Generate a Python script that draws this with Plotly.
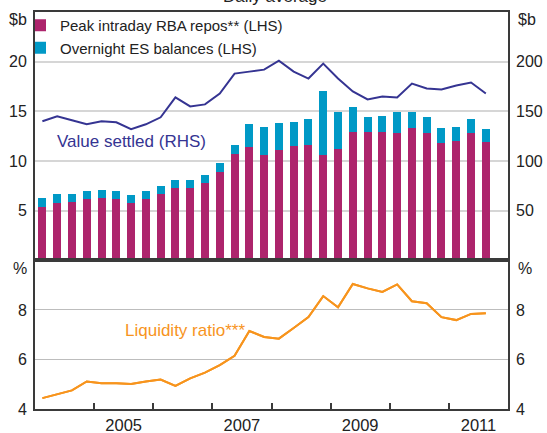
import plotly.graph_objects as go

# ---------------- data ----------------
quarters = [f"{y}Q{q}" for y in range(2004, 2012) for q in range(1, 5)][:31]

peak_rba_repos = [5.4, 5.8, 5.9, 6.2, 6.3, 6.2, 5.8, 6.2, 6.7, 7.3, 7.3, 7.8, 8.9, 10.7, 11.4, 10.6,
                  11.1, 11.5, 11.6, 10.6, 11.2, 12.9, 12.9, 12.9, 12.8, 13.3, 12.8, 11.8, 12.0, 12.8, 11.9]
overnight_es = [0.9, 0.9, 0.8, 0.8, 0.8, 0.8, 0.8, 0.8, 0.8, 0.8, 0.8, 0.8, 0.9, 0.9, 2.3, 2.8,
                2.7, 2.4, 2.6, 6.4, 3.7, 2.5, 1.5, 1.6, 2.1, 1.6, 1.6, 1.5, 1.4, 1.4, 1.3]
value_settled = [140, 145, 141, 137, 140, 139, 132, 137, 144, 164, 155, 157, 168, 188, 190, 192,
                 201, 190, 183, 198, 183, 170, 162, 165, 164, 178, 173, 172, 176, 179, 168]
liquidity_ratio = [4.44, 4.59, 4.75, 5.11, 5.04, 5.04, 5.01, 5.11, 5.19, 4.93, 5.24, 5.47, 5.77, 6.15,
                   7.15, 6.91, 6.84, 7.27, 7.71, 8.56, 8.11, 9.05, 8.87, 8.73, 9.03, 8.35, 8.27, 7.71,
                   7.59, 7.84, 7.87]

year_ticks = [2005, 2006, 2007, 2008, 2009, 2010, 2011]
year_labels = ["2005", "2007", "2009", "2011"]
lhs_ticks_top = [5, 10, 15, 20]
rhs_ticks_top = [50, 100, 150, 200]
pct_ticks = [4, 6, 8]

# quarter label -> position in years (mid-quarter)
xq = [int(s[:4]) + (int(s[-1]) - 0.5) / 4 for s in quarters]

MAGENTA = "#AD246C"
TEAL = "#0099C6"
NAVY = "#353492"
ORANGE = "#F7941D"
AXIS = "#3a3a3a"
TXT = "#222222"
FONT = "Liberation Sans, Arial, sans-serif"

W, H = 547, 433
ML, MR, MT, MB = 35, 39, 12, 24
PW, PH = W - ML - MR, H - MT - MB

fig = go.Figure()
fig.add_trace(go.Bar(x=xq, y=peak_rba_repos, name="Peak intraday RBA repos** (LHS)",
                     marker=dict(color=MAGENTA, line=dict(width=0)), width=0.135,
                     xaxis="x", yaxis="y"))
fig.add_trace(go.Bar(x=xq, y=overnight_es, name="Overnight ES balances (LHS)",
                     marker=dict(color=TEAL, line=dict(width=0)), width=0.135,
                     xaxis="x", yaxis="y"))
fig.add_trace(go.Scatter(x=xq, y=value_settled, mode="lines", showlegend=False,
                         line=dict(color=NAVY, width=2), xaxis="x", yaxis="y3"))
fig.add_trace(go.Scatter(x=xq, y=liquidity_ratio, mode="lines", showlegend=False,
                         line=dict(color=ORANGE, width=2), xaxis="x2", yaxis="y2"))
fig.add_trace(go.Scatter(x=xq, y=liquidity_ratio, mode="lines", showlegend=False,
                         line=dict(color=ORANGE, width=2), xaxis="x2", yaxis="y4",
                         hoverinfo="skip"))

split = (409.3 - 260.7) / PH
xr = [2004, 2012]

fig.update_layout(
    width=W, height=H,
    margin=dict(l=ML, r=MR, t=MT, b=MB, autoexpand=False),
    paper_bgcolor="white", plot_bgcolor="white",
    barmode="stack", bargap=0,
    font=dict(family=FONT, size=16, color=TXT),
    showlegend=True,
    legend=dict(x=0, y=1 + 3 / PH, xanchor="left", yanchor="top", indentation=-15,
                bgcolor="rgba(0,0,0,0)", font=dict(size=15, color=TXT),
                tracegroupgap=0, itemwidth=30, traceorder="normal"),
    xaxis=dict(domain=[0, 1], range=xr, anchor="y", showticklabels=False, ticks="",
               showgrid=False, zeroline=False, showline=True, mirror=True,
               linecolor=AXIS, linewidth=2, automargin=False),
    yaxis=dict(domain=[split, 1], range=[0, 25], tickvals=lhs_ticks_top, ticks="",
               showgrid=True, gridcolor="#d6d6d6", gridwidth=2, zeroline=False,
               showline=True, mirror=True, linecolor=AXIS, linewidth=2, anchor="x",
               automargin=False, ticklabelstandoff=3),
    yaxis3=dict(overlaying="y", side="right", range=[0, 250], tickvals=rhs_ticks_top,
                ticks="", showgrid=False, zeroline=False, anchor="x", automargin=False,
                ticklabelstandoff=7),
    xaxis2=dict(domain=[0, 1], range=xr, anchor="y2", tickmode="array",
                tickvals=[int(s) + 0.5 for s in year_labels], ticktext=year_labels,
                ticks="", tickfont=dict(size=16.5), showgrid=False, zeroline=False,
                showline=True, mirror=True, linecolor=AXIS, linewidth=2, automargin=False,
                ticklabelstandoff=0,
                minor=dict(tickmode="array", tickvals=year_ticks, ticks="inside",
                           ticklen=6, tickwidth=1.5, tickcolor=AXIS, showgrid=False)),
    yaxis2=dict(domain=[0, split], range=[4, 10], tickvals=pct_ticks, ticks="",
                showgrid=True, gridcolor="#bdbdbd", gridwidth=1, zeroline=False,
                showline=True, mirror=True, linecolor=AXIS, linewidth=2, anchor="x2",
                automargin=False, ticklabelstandoff=3),
    yaxis4=dict(overlaying="y2", side="right", range=[4, 10], tickvals=pct_ticks,
                ticks="", showgrid=False, zeroline=False, anchor="x2", automargin=False,
                ticklabelstandoff=7),
)


def px_x(px):
    return (px - ML) / PW


def px_y(py):
    return (H - MB - py) / PH


ann = [
    dict(text="Daily average", x=px_x(275), xref="paper", y=px_y(-3), yref="paper",
         yanchor="middle", xanchor="center", showarrow=False, font=dict(size=17, color=TXT)),
]
for txt, x, y in [("$b", 18, 19), ("$b", 527, 19), ("%", 20, 268), ("%", 525, 268)]:
    ann.append(dict(text=txt, x=px_x(x), xref="paper", y=px_y(y), yref="paper",
                    showarrow=False, xanchor="center", yanchor="middle",
                    font=dict(size=16, color=TXT)))
ann.append(dict(text="Value settled (RHS)", x=2005.64, xref="x", y=120, yref="y3",
                showarrow=False, xanchor="center", yanchor="middle",
                font=dict(size=17, color=NAVY)))
ann.append(dict(text="Liquidity ratio***", x=2006.54, xref="x2", y=7.17, yref="y2",
                showarrow=False, xanchor="center", yanchor="middle",
                font=dict(size=17, color=ORANGE)))
fig.update_layout(annotations=ann)

fig.write_html("out.html", config={"displayModeBar": False},
               post_script="document.body.style.margin='0';"
                           "document.body.style.overflow='hidden';")
